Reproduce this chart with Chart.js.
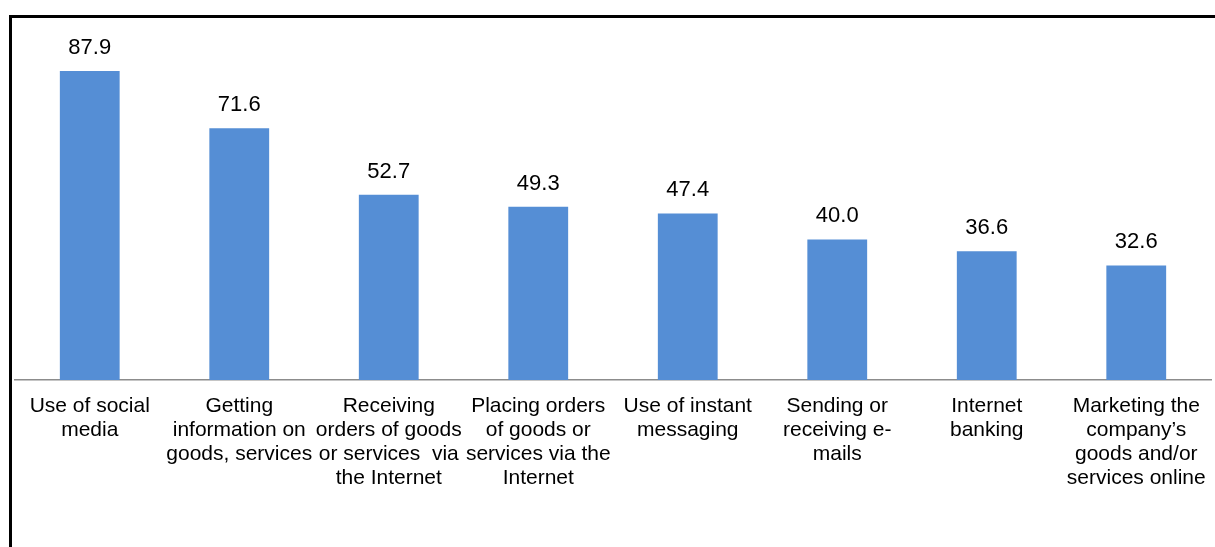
<!DOCTYPE html>
<html>
<head>
<meta charset="utf-8">
<script src="https://cdn.jsdelivr.net/npm/chart.js@4/dist/chart.umd.min.js"></script>
<style>
  html, body { margin: 0; padding: 0; background: #fff; overflow: hidden; }
  #wrap { position: relative; width: 1215px; height: 547px; overflow: hidden; }
  #frame { position: absolute; left: 9px; top: 15px; width: 1400px; height: 800px; border: 3px solid #000; box-sizing: border-box; }
  canvas { position: absolute; left: 0; top: 0; }
</style>
</head>
<body>
<div id="wrap">
  <div id="frame"></div>
  <canvas id="c" width="1215" height="547"></canvas>
</div>
<script>
const categories = [
  ["Use of social", "media"],
  ["Getting", "information on", "goods, services"],
  ["Receiving", "orders of goods", "or services  via", "the Internet"],
  ["Placing orders", "of goods or", "services via the", "Internet"],
  ["Use of instant", "messaging"],
  ["Sending or", "receiving e-", "mails"],
  ["Internet", "banking"],
  ["Marketing the", "company\u2019s", "goods and/or", "services online"]
];
const values = [87.9, 71.6, 52.7, 49.3, 47.4, 40.0, 36.6, 32.6];
const valueLabels = ["87.9", "71.6", "52.7", "49.3", "47.4", "40.0", "36.6", "32.6"];

const FONT = "'Liberation Sans', Arial, sans-serif";

const valueLabelPlugin = {
  id: 'valueLabels',
  afterDatasetsDraw(chart) {
    const ctx = chart.ctx;
    const meta = chart.getDatasetMeta(0);
    ctx.save();
    ctx.font = "22px " + FONT;
    ctx.fillStyle = "#000";
    ctx.textAlign = "center";
    ctx.textBaseline = "alphabetic";
    meta.data.forEach((bar, i) => {
      ctx.fillText(valueLabels[i], bar.x, bar.y - 17);
    });
    ctx.restore();
  }
};

new Chart(document.getElementById('c'), {
  type: 'bar',
  data: {
    labels: categories,
    datasets: [{
      data: values,
      backgroundColor: '#558ED5',
      borderWidth: 0,
      barPercentage: 0.4,
      categoryPercentage: 1.0
    }]
  },
  options: {
    responsive: false,
    animation: false,
    devicePixelRatio: 1,
    layout: { padding: { left: 15, right: 4, top: 28.5, bottom: 0 } },
    plugins: { legend: { display: false }, tooltip: { enabled: false } },
    scales: {
      x: {
        grid: { display: false, drawTicks: false },
        border: { display: true, color: '#8c8c8c', width: 1.5 },
        ticks: {
          autoSkip: false,
          maxRotation: 0,
          minRotation: 0,
          padding: 14,
          color: '#000',
          font: { family: FONT, size: 21, lineHeight: 24 / 21 }
        },
        afterFit(scale) {
          scale.height = 167;
          scale.paddingLeft = 0;
          scale.paddingRight = 0;
        }
      },
      y: {
        display: false,
        min: 0,
        max: 100
      }
    }
  },
  plugins: [valueLabelPlugin]
});
</script>
</body>
</html>
